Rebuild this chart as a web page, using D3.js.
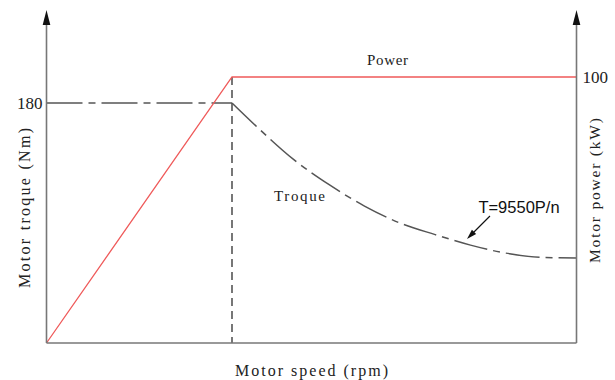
<!DOCTYPE html>
<html>
<head>
<meta charset="utf-8">
<script src="https://cdn.jsdelivr.net/npm/d3@7"></script>
<style>
  html, body { margin: 0; padding: 0; background: #fff; }
  svg { display: block; }
</style>
</head>
<body>
<div id="chart"></div>
<script>
// Motor characteristic: constant torque below base speed, constant power above it.
const baseSpeed = 5250;          // rpm
const maxSpeed = 15000;          // rpm
const ratedTorque = 180;         // Nm
const ratedPower = 100;          // kW

// Power curve (kW) against speed (rpm)
const powerSpeeds = [0, baseSpeed, maxSpeed];
const powerValues = [0, ratedPower, ratedPower];

// Torque curve (Nm): flat region then field-weakening region
const torqueFlatSpeeds = [0, baseSpeed];
const torqueFlatValues = [ratedTorque, ratedTorque];
const torqueWeakSpeeds = [5250, 6000, 7000, 8000, 9000, 10000, 11000, 12000, 13000, 14000, 15000];
const torqueWeakValues = [180, 161, 137.5, 118.7, 102.7, 90, 81.3, 73.4, 67.4, 64.2, 63.7];

// Tick labels on the two vertical axes
const torqueTicks = [180];
const powerTicks = [100];

// Where the formula callout points on the torque curve
const calloutSpeed = 11900;
const calloutTorque = 78;

const W = 615, H = 380;
const box = { left: 46.5, right: 576.5, bottom: 343, top: 10 };

const svg = d3.select("#chart").append("svg")
  .attr("width", W).attr("height", H);

const x = d3.scaleLinear().domain([0, maxSpeed]).range([box.left, box.right]);
const yT = d3.scaleLinear().domain([0, ratedTorque]).range([box.bottom, 103]);
const yP = d3.scaleLinear().domain([0, ratedPower]).range([box.bottom, 77]);

const axisColor = "#777";
const curveColor = "#555";
const red = "#ef5a5a";

// Base-speed divider
svg.append("line")
  .attr("x1", x(baseSpeed)).attr("x2", x(baseSpeed))
  .attr("y1", yP(ratedPower)).attr("y2", box.bottom)
  .attr("stroke", curveColor).attr("stroke-width", 1.6)
  .attr("stroke-dasharray", "8,5");

// Torque: flat segment and field-weakening curve
const flatLine = d3.line()
  .x((d, i) => x(torqueFlatSpeeds[i]))
  .y(d => yT(d));
svg.append("path")
  .attr("d", flatLine(torqueFlatValues))
  .attr("fill", "none").attr("stroke", curveColor).attr("stroke-width", 1.5)
  .attr("stroke-dasharray", "36,6,7,6");

const weakLine = d3.line()
  .x((d, i) => x(torqueWeakSpeeds[i]))
  .y(d => yT(d))
  .curve(d3.curveMonotoneX);
svg.append("path")
  .attr("d", weakLine(torqueWeakValues))
  .attr("fill", "none").attr("stroke", curveColor).attr("stroke-width", 1.5)
  .attr("stroke-dasharray", "34,6,7,6");

// Power curve
const powerLine = d3.line()
  .x((d, i) => x(powerSpeeds[i]))
  .y(d => yP(d));
svg.append("path")
  .attr("d", powerLine(powerValues))
  .attr("fill", "none").attr("stroke", red).attr("stroke-width", 1.3);

// Axes frame: bottom, left and right with arrowheads on the verticals
const frame = svg.append("g").attr("stroke", axisColor).attr("stroke-width", 1.6);
frame.append("line").attr("x1", box.left).attr("x2", box.right)
  .attr("y1", box.bottom).attr("y2", box.bottom);
[box.left, box.right].forEach(ax => {
  frame.append("line").attr("x1", ax).attr("x2", ax)
    .attr("y1", box.bottom).attr("y2", box.top + 12);
  svg.append("path")
    .attr("d", `M${ax},${box.top} L${ax - 3.8},${box.top + 15} L${ax + 3.8},${box.top + 15} Z`)
    .attr("fill", "#111");
});

// Tick labels via d3 axes (labels only)
const leftAxis = svg.append("g")
  .attr("transform", `translate(${box.left},0)`)
  .call(d3.axisLeft(yT).tickValues(torqueTicks).tickSize(0).tickPadding(4));
const rightAxis = svg.append("g")
  .attr("transform", `translate(${box.right},0)`)
  .call(d3.axisRight(yP).tickValues(powerTicks).tickSize(0).tickPadding(6));
[leftAxis, rightAxis].forEach(g => {
  g.select(".domain").remove();
  g.selectAll("text")
    .attr("font-family", "'Liberation Serif', 'Times New Roman', serif")
    .attr("font-size", 17).attr("fill", "#222");
});

const serif = "'Liberation Serif', 'Times New Roman', serif";

// Wide-set serif labels, stretched to a fixed run length
function label(sel, str, size, length) {
  return sel.append("text")
    .attr("font-family", serif).attr("font-size", size).attr("fill", "#222")
    .attr("textLength", length).attr("lengthAdjust", "spacing")
    .text(str);
}

// Axis titles
label(svg, "Motor troque (Nm)", 16, 160)
  .attr("transform", `translate(30,288) rotate(-90)`);
label(svg, "Motor power (kW)", 15.5, 145)
  .attr("transform", `translate(600,263) rotate(-90)`);
label(svg, "Motor speed (rpm)", 16, 153)
  .attr("x", 235).attr("y", 376);

// Curve labels
label(svg, "Power", 15, 41).attr("x", 367).attr("y", 65);
label(svg, "Troque", 15, 51).attr("x", 274).attr("y", 201);

// Formula callout with arrow to the torque curve
const tipX = x(calloutSpeed), tipY = yT(calloutTorque);
const tailX = tipX + 23, tailY = tipY - 23;
svg.append("text")
  .attr("x", 519).attr("y", 213)
  .attr("text-anchor", "middle")
  .attr("font-family", "'Liberation Sans', Arial, sans-serif")
  .attr("font-size", 16.5).attr("fill", "#111")
  .text("T=9550P/n");
svg.append("line")
  .attr("x1", tailX).attr("y1", tailY).attr("x2", tipX + 5).attr("y2", tipY - 5)
  .attr("stroke", "#111").attr("stroke-width", 1.2);
{
  const ang = Math.atan2(tipY - tailY, tipX - tailX);
  const len = 10, half = 3;
  const bx = tipX - len * Math.cos(ang), by = tipY - len * Math.sin(ang);
  const px = -Math.sin(ang) * half, py = Math.cos(ang) * half;
  svg.append("path")
    .attr("d", `M${tipX},${tipY} L${bx + px},${by + py} L${bx - px},${by - py} Z`)
    .attr("fill", "#111");
}
</script>
</body>
</html>
